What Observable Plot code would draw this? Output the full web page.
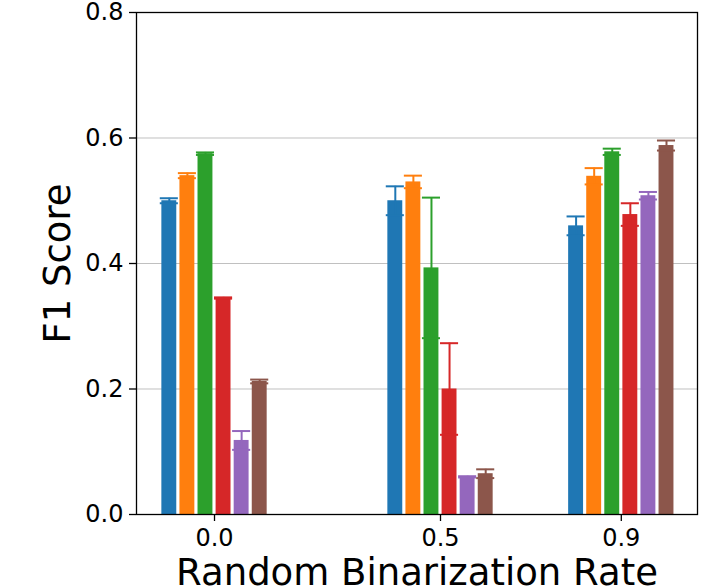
<!DOCTYPE html>
<html>
<head>
<meta charset="utf-8">
<script src="https://cdn.jsdelivr.net/npm/d3@7"></script>
<script src="https://cdn.jsdelivr.net/npm/@observablehq/plot@0.6"></script>
<style>
  html, body { margin: 0; padding: 0; background: #fff; }
  #chart svg { font-family: "DejaVu Sans", sans-serif; }
</style>
</head>
<body>
<div id="chart"></div>
<script>
// Random binarization rates (group positions on a linear x axis)
const rates = [0.0, 0.5, 0.9];
const rateTicks = [0.0, 0.5, 0.9];
const yTicks = [0.0, 0.2, 0.4, 0.6, 0.8];
const seriesNames = ["S1", "S2", "S3", "S4", "S5", "S6"];
const seriesColors = ["#1f77b4", "#ff7f0e", "#2ca02c", "#d62728", "#9467bd", "#8c564b"];

// mean F1 per series, one entry per rate
const meanS1 = [0.500, 0.500, 0.460];
const meanS2 = [0.540, 0.530, 0.539];
const meanS3 = [0.575, 0.393, 0.578];
const meanS4 = [0.345, 0.200, 0.478];
const meanS5 = [0.118, 0.060, 0.508];
const meanS6 = [0.212, 0.065, 0.588];

// error (half-width) per series, one entry per rate
const errS1 = [0.004, 0.023, 0.015];
const errS2 = [0.004, 0.010, 0.013];
const errS3 = [0.002, 0.112, 0.005];
const errS4 = [0.001, 0.073, 0.018];
const errS5 = [0.015, 0.001, 0.006];
const errS6 = [0.003, 0.007, 0.008];

const means = [meanS1, meanS2, meanS3, meanS4, meanS5, meanS6];
const errs = [errS1, errS2, errS3, errS4, errS5, errS6];

const step = 0.04, barW = 0.033, capW = 0.04;
const rows = [];
seriesNames.forEach((s, i) => {
  rates.forEach((r, j) => {
    const x = r + (i - 2.5) * step;
    rows.push({series: s, x, m: means[i][j], e: errs[i][j]});
  });
});

const color = {domain: seriesNames, range: seriesColors};

const chart = Plot.plot({
  width: 718,
  height: 588,
  marginLeft: 136,
  marginRight: 21,
  marginTop: 12,
  marginBottom: 74,
  style: {fontFamily: "DejaVu Sans, sans-serif", background: "#fff"},
  x: {domain: [-0.1726, 1.0686]},
  y: {domain: [0, 0.8]},
  color,
  marks: [
    Plot.gridY(yTicks, {stroke: "#b0b0b0", strokeOpacity: 0.8, strokeWidth: 1}),
    Plot.rectY(rows, {x1: d => d.x - barW / 2, x2: d => d.x + barW / 2, y1: 0, y2: "m", fill: "series"}),
    Plot.ruleX(rows, {x: "x", y1: d => d.m - d.e, y2: d => d.m + d.e, stroke: "series", strokeWidth: 2}),
    Plot.ruleY(rows, {y: d => d.m + d.e, x1: d => d.x - capW / 2, x2: d => d.x + capW / 2, stroke: "series", strokeWidth: 2}),
    Plot.ruleY(rows, {y: d => d.m - d.e, x1: d => d.x - capW / 2, x2: d => d.x + capW / 2, stroke: "series", strokeWidth: 2}),
    Plot.axisY(yTicks, {tickFormat: d3.format(".1f"), fontSize: 24, tickSize: 7, tickPadding: 6, stroke: "#000", strokeWidth: 1.3, fill: "#000", label: null}),
    Plot.axisX(rateTicks, {tickFormat: d3.format(".1f"), fontSize: 24, tickSize: 7, tickPadding: 7, stroke: "#000", strokeWidth: 1.3, fill: "#000", label: null}),
    Plot.text(["F1 Score"], {frameAnchor: "left", textAnchor: "middle", lineAnchor: "middle", dx: -78, rotate: -90, fontSize: 37, fill: "#000"}),
    Plot.text(["Random Binarization Rate"], {frameAnchor: "bottom", textAnchor: "middle", lineAnchor: "middle", dy: 59, fontSize: 37, fill: "#000"}),
    Plot.frame({stroke: "#000", strokeWidth: 1.3})
  ]
});
document.getElementById("chart").appendChild(chart);
</script>
</body>
</html>
